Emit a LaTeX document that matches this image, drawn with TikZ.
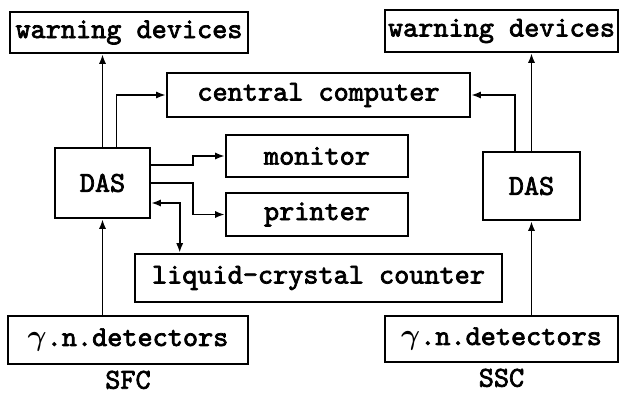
\documentclass[tikz,border=0pt]{standalone}
\usepackage{amsmath}
\usepackage{fontspec}
\newfontfamily\typew{lmmono10-regular}[Extension=.otf,FakeBold=2.5]
\usepackage{tikz}
\usetikzlibrary{positioning,arrows.meta}

\begin{document}
\begin{tikzpicture}[x=0.025cm,y=-0.025cm,font=\fontsize{20.5}{22}\selectfont\typew,
  >={Latex[length=2.4mm,width=1.8mm]},
  box/.style={draw,line width=1.8pt,inner sep=0pt},
  link/.style={line width=1.3pt}]
  \useasboundingbox (0,0) rectangle (624,394);
  \node[box,minimum width=5.95cm,minimum height=1.025cm] (wdL) at (129,32.5) {warning devices};
  \node[box,minimum width=5.825cm,minimum height=1.05cm] (wdR) at (501.5,31) {warning devices};
  \node[box,minimum width=7.575cm,minimum height=1.1cm] (cc) at (318.5,95) {central computer};
  \node[box,minimum width=4.55cm,minimum height=1.05cm] (mon) at (317,156) {monitor};
  \node[box,minimum width=4.55cm,minimum height=1.075cm] (prn) at (317,214.5) {printer};
  \node[box,minimum width=2.375cm,minimum height=1.75cm] (dasL) at (102.5,183) {DAS};
  \node[box,minimum width=2.425cm,minimum height=1.7cm] (dasR) at (531.5,186) {DAS};
  \node[box,minimum width=9.175cm,minimum height=1.2cm] (lcc) at (318.5,278) {liquid-crystal counter};
  \node[box,minimum width=6cm,minimum height=1.2cm] (detL) at (128,340) {$\boldsymbol{\gamma}$.n.detectors};
  \node[box,minimum width=5.825cm,minimum height=1.15cm] (detR) at (501.5,339) {$\boldsymbol{\gamma}$.n.detectors};
  \node[below=0.13cm of detL,inner sep=0pt] (sfc) {SFC};
  \node[below=0.13cm of detR,inner sep=0pt] (ssc) {SSC};
  \draw[link,->] (dasL.north) -- (dasL.north |- wdL.south);
  \draw[link,->] ([xshift=0.35cm]dasL.north) |- (cc.west);
  \draw[link,->] ([yshift=0.45cm]dasL.east) -- ++(1.05cm,0) |- (mon.west);
  \draw[link,->] (dasL.east) -- ++(1.05cm,0) |- (prn.west);
  \draw[link,<->] ([yshift=-0.5cm]dasL.east) -| ([xshift=1.15cm]lcc.north west);
  \draw[link,->] (detL.north -| dasL) -- (dasL.south);
  \draw[link,->] (dasR.north) -- (dasR.north |- wdR.south);
  \draw[link,->] ([xshift=-0.41cm]dasR.north) |- (cc.east);
  \draw[link,->] (detR.north -| dasR) -- (dasR.south);
\end{tikzpicture}
\end{document}
